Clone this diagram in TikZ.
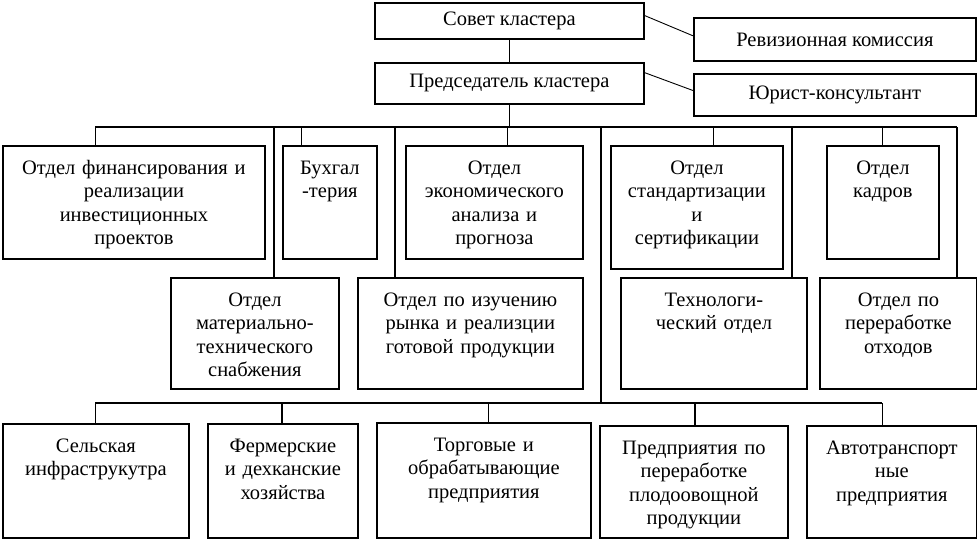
\documentclass[tikz,border=0pt]{standalone}
\usepackage{fontspec}
\setmainfont{Liberation Serif}
\usetikzlibrary{calc}

\begin{document}
\begin{tikzpicture}[x=1pt,y=-1pt,font=\fontsize{20.5}{23.5}\selectfont,
  head/.style 2 args={draw,line width=1.8pt,anchor=north west,inner sep=0pt,minimum width=#1pt,minimum height=#2pt},
  unit/.style 2 args={draw,line width=1.8pt,anchor=north west,inner sep=0pt,align=center,text width=#1pt,text height=28.5pt,text depth=#2pt-28.5pt},
  link/.style={line width=.9pt},
  trunk/.style={line width=1.8pt}]
\path[use as bounding box] (0,0) rectangle (977,539);
% management
\node[head={269}{36}] (sovet) at (374,2) {Совет кластера};
\node[head={282}{43}] (revis) at (693,17) {Ревизионная комиссия};
\node[head={269}{41}] (chair) at (374,62) {Председатель кластера};
\node[head={282}{42}] (jurist) at (693,73) {Юрист-консультант};
\draw[link] (sovet) -- (chair);
\draw[link] ($(sovet.north east)!.36!(sovet.south east)$) -- ($(revis.north west)!.42!(revis.south west)$);
\draw[link] ($(chair.north east)!.25!(chair.south east)$) -- ($(jurist.north west)!.4!(jurist.south west)$);
% departments
\node[unit={262}{113}] (fin) at (2,145) {Отдел финансирования и\\реализации\\инвестиционных\\проектов};
\node[unit={94}{113}] (buh) at (282,145) {Бухгал\\-терия};
\node[unit={177}{113}] (econ) at (405,145) {Отдел\\экономического\\анализа и\\прогноза};
\node[unit={172}{123}] (std) at (610,145) {Отдел\\стандартизации\\и\\сертификации};
\node[unit={112}{113}] (kadr) at (826,145) {Отдел\\кадров};
\node[unit={168}{111}] (snab) at (170,277) {Отдел\\материально-\\технического\\снабжения};
\node[unit={225}{111}] (rynok) at (357,277) {Отдел по изучению\\рынка и реализции\\готовой продукции};
\node[unit={186}{111}] (tech) at (620,277) {Технологи-\\ческий отдел};
\node[unit={157}{111}] (othod) at (819,277) {Отдел по\\переработке\\отходов};
\coordinate (busL) at (95,127);
\coordinate (busR) at (957,127);
\coordinate (hub) at (601,127);
\draw[link] (chair.south) -- (chair.south |- busL);
\draw[trunk] (busL) -- (busR);
\foreach \x/\n in {95/fin,301/buh,507/econ,713/std,882/kadr}{\draw[link] (\x,127) -- (\x,0 |- \n.north);}
\foreach \x/\n in {274/snab,395/rynok,792/tech,957/othod}{\draw[trunk] (\x,127) -- (\x,0 |- \n.north);}
% enterprises
\node[unit={186}{114}] (selsk) at (2,423) {Сельская\\инфраструкутра};
\node[unit={150}{114}] (ferm) at (207,423) {Фермерские\\и дехканские\\хозяйства};
\node[unit={214}{115}] (torg) at (376,422) {Торговые и\\обрабатывающие\\предприятия};
\node[unit={188}{112}] (plod) at (599,425) {Предприятия по\\переработке\\плодоовощной\\продукции};
\node[unit={170}{112}] (avto) at (806,425) {Автотранспорт\\ные\\предприятия};
\coordinate (lowL) at (95,403);
\coordinate (lowR) at (882,403);
\draw[trunk] (hub) -- (hub |- lowL);
\draw[trunk] (lowL) -- (lowR);
\foreach \x/\n in {95/selsk,488/torg,882/avto}{\draw[link] (\x,403) -- (\x,0 |- \n.north);}
\foreach \x/\n in {282/ferm,695/plod}{\draw[trunk] (\x,403) -- (\x,0 |- \n.north);}
\end{tikzpicture}
\end{document}
